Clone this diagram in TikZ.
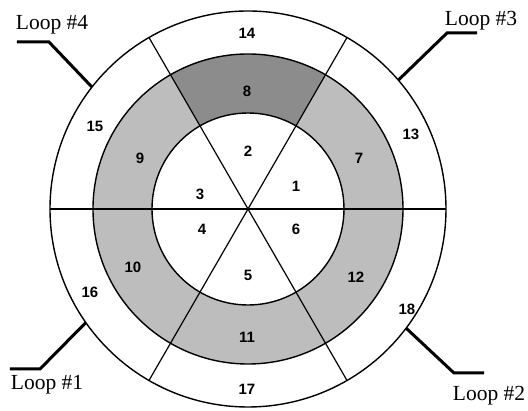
\documentclass[tikz,border=0pt]{standalone}
\usepackage{fontspec}
\setmainfont{Liberation Serif}
\setsansfont{Liberation Sans}
\usetikzlibrary{calc}

\begin{document}
\begin{tikzpicture}[x=1pt,y=1pt,
	num/.style={font=\sffamily\bfseries\fontsize{15}{15}\selectfont,inner sep=0pt},
	looptext/.style={font=\fontsize{21.5}{21.5}\selectfont,inner sep=0pt},
	lead/.style={line width=3pt},
	ring/.style={line width=1.4pt}]
	\useasboundingbox (-248,-202) rectangle (280,209);
	% shaded ring, segment 8 darker
	\fill[black!26,even odd rule] (0,0) circle (155) (0,0) circle (96);
	\fill[black!45] (60:96) arc (60:120:96) -- (120:155) arc (120:60:155) -- cycle;
	\draw[ring] (0,0) circle (198) (0,0) circle (155) (0,0) circle (96);
	\foreach \a in {0,60,120}{\draw[line width=1.2pt](\a:198)--(\a+180:198);}
	% segment numbers
	\foreach \n/\x/\y in{1/48/23,2/0/58,3/-48/15,4/-46/-20,5/0/-66,6/48/-20,
		7/111/51,8/-1/118,9/-108/51,10/-115/-58,11/-1/-128,12/108/-68,
		13/163/75,14/-1/176,15/-153/83,16/-158/-83,17/-1/-180,18/159/-100}{
		\node[num] (s\n) at (\x,\y) {\n};}
	% loops
	\foreach \n/\tx/\ty/\hx/\hy/\kx/\ky/\ang in{4/-196/184/-231/167/-199/167/142,3/233/188/229/176/199/176/40.6,
		1/-201/-176/-238/-160/-208/-160/215,2/241/-187/236/-164/206/-164/323}{
		\node[looptext] (t\n) at (\tx,\ty) {Loop \#\n};
		\coordinate (h\n) at (\hx,\hy);
		\coordinate (k\n) at (\kx,\ky);
		\coordinate (c\n) at (\ang:198);
		\draw[lead] (h\n)--(k\n)--(c\n);}
\end{tikzpicture}
\end{document}
